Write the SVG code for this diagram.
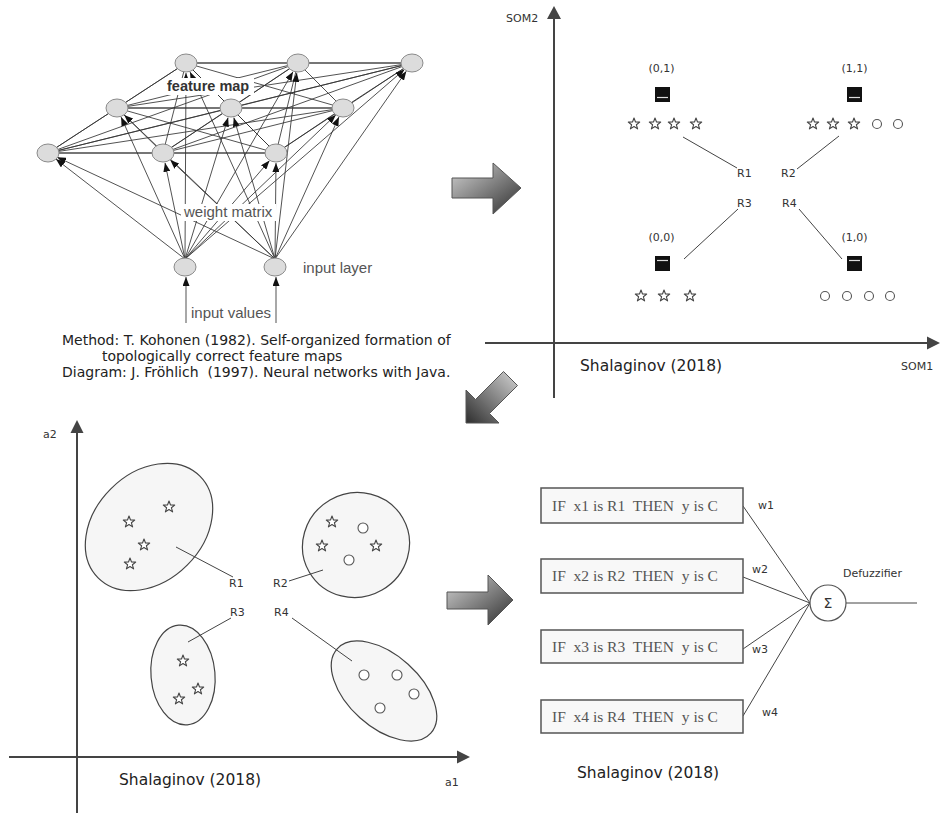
<svg xmlns="http://www.w3.org/2000/svg" width="940" height="816" viewBox="0 0 940 816">
  <style>
    .net { stroke: #333; stroke-width: 0.85; fill: none; }
    .inarrow { stroke: #333; stroke-width: 0.85; fill: none; marker-end: url(#tip); }
    .neuron { fill: #dcdcdc; stroke: #8a8a8a; stroke-width: 1; }
    .lbl { font-family: "Liberation Sans", Arial, sans-serif; font-size: 15px; fill: #555; }
    .cite { font-family: "DejaVu Sans", sans-serif; font-size: 14px; fill: #222; white-space: pre; }
    .small { font-family: "DejaVu Sans", sans-serif; font-size: 11px; fill: #333; }
    .tiny { font-family: "DejaVu Sans", sans-serif; font-size: 11px; fill: #333; }
    .author { font-family: "DejaVu Sans", sans-serif; font-size: 15.5px; fill: #222; }
    .axis { stroke: #444; stroke-width: 2; fill: none; }
    .axhead { fill: #444; }
    .lead { stroke: #444; stroke-width: 1; fill: none; }
    .cluster { fill: #f6f6f6; stroke: #444; stroke-width: 1.2; }
    .star { fill: #fff; stroke: #444; stroke-width: 1.1; stroke-linejoin: round; }
    .dot { fill: #fff; stroke: #555; stroke-width: 1.1; }
    .bmu { fill: #111; }
    .bmuline { stroke: #ddd; stroke-width: 1.2; }
    .rule { fill: #f8f8f8; stroke: #555; stroke-width: 1.5; }
    .ruletext { font-family: "Liberation Serif", "Times New Roman", serif; font-size: 15.5px; fill: #555; white-space: pre; }
    .bigarrow { stroke: #555; stroke-width: 1; }
  </style>
  <defs>
    <marker id="tip" viewBox="0 0 9 7" refX="9" refY="3.5" markerWidth="9" markerHeight="7" markerUnits="userSpaceOnUse" orient="auto">
      <path d="M0,0 L9,3.5 L0,7 z" fill="#111"/>
    </marker>
    <linearGradient id="arrowGrad" x1="0" y1="0" x2="1" y2="1">
      <stop offset="0" stop-color="#d4d4d4"/>
      <stop offset="1" stop-color="#2e2e2e"/>
    </linearGradient>
    <linearGradient id="arrowGradDL" x1="1" y1="0" x2="0" y2="1">
      <stop offset="0" stop-color="#d4d4d4"/>
      <stop offset="1" stop-color="#2e2e2e"/>
    </linearGradient>
    <polygon id="star" points="0,-6 1.5,-2 5.7,-1.9 2.4,0.8 3.6,4.9 0,2.5 -3.6,4.9 -2.4,0.8 -5.7,-1.9 -1.5,-2"/>
  </defs>

  <!-- ============ Kohonen network ============ -->
  <g id="network-connectors">
    <!-- lateral connections in the feature map -->
    <path class="net" d="M186,63 L298,63 M186,63 L412,63 M186,63 L117,108 M186,63 L231,108 M186,63 L343,108 M186,63 L48,153 M186,63 L163,153 M186,63 L276,153
      M298,63 L412,63 M298,63 L117,108 M298,63 L231,108 M298,63 L343,108 M298,63 L48,153 M298,63 L163,153 M298,63 L276,153
      M412,63 L117,108 M412,63 L231,108 M412,63 L343,108 M412,63 L48,153 M412,63 L163,153 M412,63 L276,153
      M117,108 L231,108 M117,108 L343,108 M117,108 L48,153 M117,108 L163,153 M117,108 L276,153
      M231,108 L343,108 M231,108 L48,153 M231,108 L163,153 M231,108 L276,153
      M343,108 L48,153 M343,108 L163,153 M343,108 L276,153
      M48,153 L163,153 M48,153 L276,153 M163,153 L276,153"/>
    <!-- weights from the first input -->
    <line class="inarrow" x1="185" y1="259" x2="186" y2="73"/>
    <line class="inarrow" x1="185" y1="259" x2="293" y2="71.7"/>
    <line class="inarrow" x1="185" y1="259" x2="404.4" y2="69.5"/>
    <line class="inarrow" x1="185" y1="259" x2="121.1" y2="117.1"/>
    <line class="inarrow" x1="185" y1="259" x2="228.1" y2="117.6"/>
    <line class="inarrow" x1="185" y1="259" x2="335.8" y2="114.9"/>
    <line class="inarrow" x1="185" y1="259" x2="55.9" y2="159.1"/>
    <line class="inarrow" x1="185" y1="259" x2="165" y2="162.8"/>
    <line class="inarrow" x1="185" y1="259" x2="269.5" y2="160.6"/>
    <!-- weights from the second input -->
    <line class="inarrow" x1="275" y1="259" x2="190.1" y2="72.1"/>
    <line class="inarrow" x1="275" y1="259" x2="296.8" y2="72.9"/>
    <line class="inarrow" x1="275" y1="259" x2="406.3" y2="71.2"/>
    <line class="inarrow" x1="275" y1="259" x2="124.2" y2="114.9"/>
    <line class="inarrow" x1="275" y1="259" x2="233.8" y2="117.6"/>
    <line class="inarrow" x1="275" y1="259" x2="338.9" y2="117.1"/>
    <line class="inarrow" x1="275" y1="259" x2="57.1" y2="157.2"/>
    <line class="inarrow" x1="275" y1="259" x2="170.3" y2="159.9"/>
    <line class="inarrow" x1="275" y1="259" x2="276" y2="163"/>
    <!-- input values -->
    <line class="inarrow" x1="186" y1="323" x2="186" y2="277"/>
    <line class="inarrow" x1="276" y1="323" x2="276" y2="277"/>
  </g>

  <g id="map-nodes">
    <ellipse class="neuron" cx="186" cy="63" rx="11" ry="9"/>
    <ellipse class="neuron" cx="298" cy="63" rx="11" ry="9"/>
    <ellipse class="neuron" cx="412" cy="63" rx="11" ry="9"/>
    <ellipse class="neuron" cx="117" cy="108" rx="11" ry="9"/>
    <ellipse class="neuron" cx="231" cy="108" rx="11" ry="9"/>
    <ellipse class="neuron" cx="343" cy="108" rx="11" ry="9"/>
    <ellipse class="neuron" cx="48" cy="153" rx="11" ry="9"/>
    <ellipse class="neuron" cx="163" cy="153" rx="11" ry="9"/>
    <ellipse class="neuron" cx="276" cy="153" rx="11" ry="9"/>
  </g>
  <g id="input-nodes">
    <ellipse class="neuron" cx="185" cy="267" rx="11" ry="9"/>
    <ellipse class="neuron" cx="275" cy="267" rx="11" ry="9"/>
  </g>

  <g id="network-labels">
    <rect x="164" y="78" width="90" height="17" fill="#fff"/>
    <text x="167" y="91" font-family="Liberation Sans, Arial, sans-serif" font-size="14.5" font-weight="bold" fill="#333">feature map</text>
    <rect x="181" y="204" width="95" height="17" fill="#fff"/>
    <text class="lbl" x="184" y="217">weight matrix</text>
    <text class="lbl" x="303" y="273">input layer</text>
    <text class="lbl" x="191" y="318">input values</text>
  </g>

  <g id="citation">
    <text class="cite" x="62" y="345">Method: T. Kohonen (1982). Self-organized formation of</text>
    <text class="cite" x="102" y="361">topologically correct feature maps</text>
    <text class="cite" x="62" y="377">Diagram: J. Fröhlich  (1997). Neural networks with Java.</text>
  </g>

  <!-- ============ Flow arrows ============ -->
  <g id="flow-arrows">
    <polygon class="bigarrow" fill="url(#arrowGrad)" points="452,178 493,178 493,163 521,188 493,214 493,198 452,198"/>
    <polygon class="bigarrow" fill="url(#arrowGradDL)" points="466,423 466,390 475.5,399.5 503.5,371.5 517.5,385.5 489.5,413.5 499,423"/>
    <polygon class="bigarrow" fill="url(#arrowGrad)" points="447,592 488,592 488,575 513,600 488,625 488,609 447,609"/>
  </g>

  <!-- ============ SOM grid plot ============ -->
  <g id="som-plot">
    <line class="axis" x1="554" y1="398" x2="554" y2="16"/>
    <polygon class="axhead" points="554,6 547,19 561,19"/>
    <line class="axis" x1="485" y1="343" x2="928" y2="343"/>
    <polygon class="axhead" points="940,343 927,336.5 927,349.5"/>
    <text class="tiny" x="506" y="22">SOM2</text>
    <text class="tiny" x="901" y="370">SOM1</text>
    <text class="author" x="580" y="371">Shalaginov (2018)</text>
  </g>

  <g id="som-unit-01">
    <text class="small" x="661.5" y="72" text-anchor="middle">(0,1)</text>
    <rect class="bmu" x="655" y="87" width="15" height="15"/>
    <line class="bmuline" x1="657" y1="97.5" x2="668" y2="97.5"/>
    <use href="#star" class="star" x="634" y="124"/>
    <use href="#star" class="star" x="655" y="124"/>
    <use href="#star" class="star" x="674" y="124"/>
    <use href="#star" class="star" x="696" y="124"/>
  </g>
  <g id="som-unit-11">
    <text class="small" x="854.5" y="72" text-anchor="middle">(1,1)</text>
    <rect class="bmu" x="847" y="87" width="15" height="15"/>
    <line class="bmuline" x1="849" y1="97.5" x2="860" y2="97.5"/>
    <use href="#star" class="star" x="813" y="124"/>
    <use href="#star" class="star" x="833" y="124"/>
    <use href="#star" class="star" x="854" y="124"/>
    <circle class="dot" cx="877" cy="124" r="4.5"/>
    <circle class="dot" cx="898" cy="124" r="4.5"/>
  </g>
  <g id="som-unit-00">
    <text class="small" x="661.5" y="241" text-anchor="middle">(0,0)</text>
    <rect class="bmu" x="655" y="256" width="15" height="15"/>
    <line class="bmuline" x1="657" y1="260.5" x2="668" y2="260.5"/>
    <use href="#star" class="star" x="641" y="296"/>
    <use href="#star" class="star" x="664" y="296"/>
    <use href="#star" class="star" x="690" y="296"/>
  </g>
  <g id="som-unit-10">
    <text class="small" x="854.5" y="241" text-anchor="middle">(1,0)</text>
    <rect class="bmu" x="847" y="256" width="15" height="15"/>
    <line class="bmuline" x1="849" y1="260.5" x2="860" y2="260.5"/>
    <circle class="dot" cx="825" cy="296" r="4.5"/>
    <circle class="dot" cx="847" cy="296" r="4.5"/>
    <circle class="dot" cx="869" cy="296" r="4.5"/>
    <circle class="dot" cx="890" cy="296" r="4.5"/>
  </g>
  <g id="som-connectors">
    <line class="lead" x1="683" y1="137" x2="737" y2="168"/>
    <line class="lead" x1="797" y1="169" x2="839" y2="136"/>
    <line class="lead" x1="738" y1="209" x2="684" y2="259"/>
    <line class="lead" x1="799" y1="209" x2="842" y2="259"/>
  </g>
  <g id="som-region-labels">
    <text class="small" x="737" y="177">R1</text>
    <text class="small" x="781" y="177">R2</text>
    <text class="small" x="737" y="207">R3</text>
    <text class="small" x="782" y="207">R4</text>
  </g>

  <!-- ============ Feature space clusters ============ -->
  <g id="feature-plot">
    <line class="axis" x1="77" y1="813" x2="77" y2="430"/>
    <polygon class="axhead" points="77,420 70.5,433 83.5,433"/>
    <line class="axis" x1="9" y1="757" x2="460" y2="757"/>
    <polygon class="axhead" points="470,757 457,750.5 457,763.5"/>
    <text class="tiny" x="43" y="438">a2</text>
    <text class="tiny" x="445" y="786">a1</text>
    <text class="author" x="119" y="785">Shalaginov (2018)</text>
  </g>
  <g id="cluster-r1">
    <ellipse class="cluster" cx="149" cy="527" rx="72" ry="54" transform="rotate(-45 149 527)"/>
    <use href="#star" class="star" x="129" y="522"/>
    <use href="#star" class="star" x="169" y="507"/>
    <use href="#star" class="star" x="144" y="545"/>
    <use href="#star" class="star" x="130" y="564"/>
  </g>
  <g id="cluster-r2">
    <ellipse class="cluster" cx="356" cy="545" rx="54" ry="52" transform="rotate(-30 356 545)"/>
    <use href="#star" class="star" x="332" y="522"/>
    <use href="#star" class="star" x="322" y="546"/>
    <use href="#star" class="star" x="376" y="546"/>
    <circle class="dot" cx="363" cy="528" r="5"/>
    <circle class="dot" cx="349" cy="560" r="5"/>
  </g>
  <g id="cluster-r3">
    <ellipse class="cluster" cx="183" cy="675" rx="32" ry="50" transform="rotate(-5 183 675)"/>
    <use href="#star" class="star" x="183" y="661"/>
    <use href="#star" class="star" x="198" y="689"/>
    <use href="#star" class="star" x="179" y="699"/>
  </g>
  <g id="cluster-r4">
    <ellipse class="cluster" cx="384" cy="691" rx="63" ry="36" transform="rotate(42 384 691)"/>
    <circle class="dot" cx="364" cy="675" r="5"/>
    <circle class="dot" cx="397" cy="675" r="5"/>
    <circle class="dot" cx="414" cy="694" r="5"/>
    <circle class="dot" cx="380" cy="708" r="5"/>
  </g>
  <g id="cluster-connectors">
    <line class="lead" x1="176" y1="547" x2="233" y2="577"/>
    <line class="lead" x1="289" y1="581" x2="323" y2="570"/>
    <line class="lead" x1="231" y1="618" x2="188" y2="642"/>
    <line class="lead" x1="292" y1="618" x2="352" y2="661"/>
  </g>
  <g id="cluster-labels">
    <text class="small" x="229" y="587">R1</text>
    <text class="small" x="273" y="587">R2</text>
    <text class="small" x="230" y="616">R3</text>
    <text class="small" x="274" y="616">R4</text>
  </g>

  <!-- ============ Fuzzy rule base ============ -->
  <g id="rule-connectors">
    <line class="lead" x1="743" y1="506" x2="810" y2="603"/>
    <line class="lead" x1="743" y1="577" x2="810" y2="603"/>
    <line class="lead" x1="743" y1="649" x2="810" y2="603"/>
    <line class="lead" x1="743" y1="716" x2="810" y2="603"/>
    <line class="lead" x1="846" y1="603" x2="917" y2="603"/>
  </g>
  <g id="rule-1">
    <rect class="rule" x="541" y="488" width="202" height="35"/>
    <text class="ruletext" x="552" y="511">IF  x1 is R1  THEN  y is C</text>
  </g>
  <g id="rule-2">
    <rect class="rule" x="541" y="559" width="202" height="34"/>
    <text class="ruletext" x="552" y="581">IF  x2 is R2  THEN  y is C</text>
  </g>
  <g id="rule-3">
    <rect class="rule" x="541" y="630" width="202" height="33"/>
    <text class="ruletext" x="552" y="652">IF  x3 is R3  THEN  y is C</text>
  </g>
  <g id="rule-4">
    <rect class="rule" x="541" y="700" width="202" height="33"/>
    <text class="ruletext" x="552" y="722">IF  x4 is R4  THEN  y is C</text>
  </g>
  <g id="defuzzifier">
    <circle cx="828" cy="603" r="18" fill="#fff" stroke="#555" stroke-width="1.2"/>
    <text x="828" y="608" text-anchor="middle" font-family="DejaVu Sans, sans-serif" font-size="14" fill="#333">Σ</text>
    <text class="tiny" x="843" y="577">Defuzzifier</text>
  </g>
  <g id="weight-labels">
    <text class="tiny" x="758" y="509">w1</text>
    <text class="tiny" x="752" y="573">w2</text>
    <text class="tiny" x="752" y="653">w3</text>
    <text class="tiny" x="762" y="716">w4</text>
  </g>
  <text class="author" x="577" y="778">Shalaginov (2018)</text>
</svg>
